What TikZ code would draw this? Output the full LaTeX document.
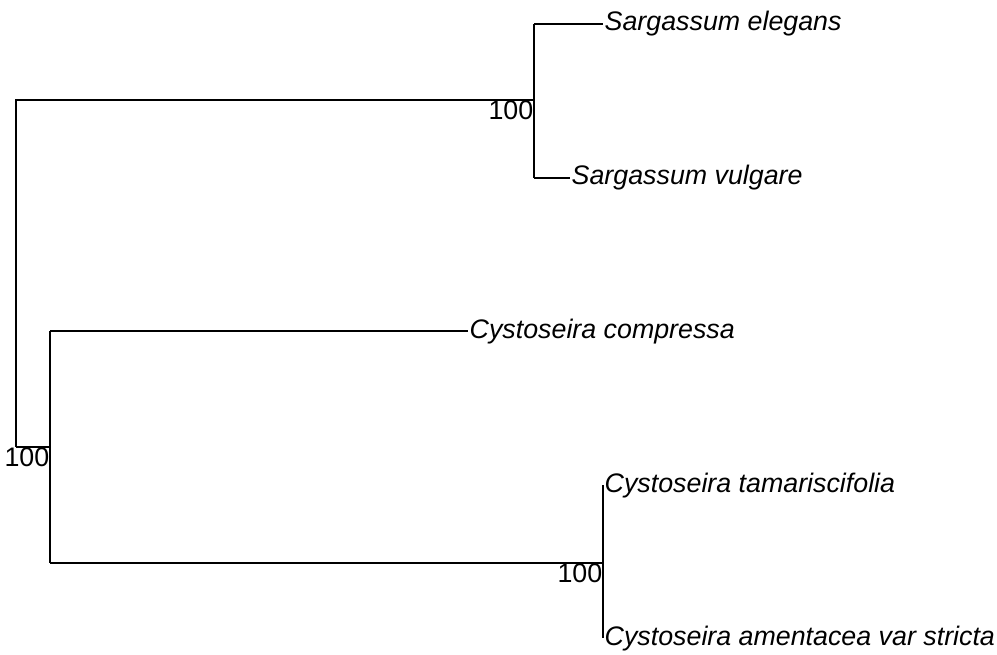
\documentclass[tikz,border=0pt]{standalone}
\usepackage{fontspec}
\setmainfont{Liberation Sans}
\begin{document}
\begin{tikzpicture}[x=1pt,y=-1pt,
  br/.style={line width=1.3pt,black},
  leaf/.style={anchor=base west,inner sep=1.5pt,yshift=-7pt,font=\fontsize{26.8}{32}\selectfont\itshape},
  boot/.style={anchor=north east,inner sep=0.5pt,font=\fontsize{26.8}{32}\selectfont}]
\useasboundingbox (0,0) rectangle (997,655);
\coordinate (root) at (16,447);
\coordinate (rtop) at (16,100);
\coordinate (sg) at (534,100);
\coordinate (sgt) at (534,24);
\coordinate (sgb) at (534,178);
\coordinate (l1) at (603,24);
\coordinate (l2) at (570,178);
\coordinate (cy) at (50,447);
\coordinate (cyt) at (50,331);
\coordinate (cyb) at (50,563);
\coordinate (l3) at (468,331);
\coordinate (cn) at (603,563);
\coordinate (l4) at (603,485);
\coordinate (l5) at (603,638);
\draw[br] (root) -- (rtop) -- (sg);
\draw[br] (sgt) -- (sgb);
\draw[br] (sgt) -- (l1);
\draw[br] (sgb) -- (l2);
\draw[br] (root) -- (cy);
\draw[br] (cyt) -- (cyb);
\draw[br] (cyt) -- (l3);
\draw[br] (cyb) -- (cn);
\draw[br] (l4) -- (l5);
\node[leaf] (n1) at (l1) {Sargassum elegans};
\node[leaf] (n2) at (l2) {Sargassum vulgare};
\node[leaf] (n3) at (l3) {Cystoseira compressa};
\node[leaf] (n4) at (l4) {Cystoseira tamariscifolia};
\node[leaf] (n5) at (l5) {Cystoseira amentacea var stricta};
\node[boot] (b1) at (sg) {100};
\node[boot] (b2) at (cy) {100};
\node[boot] (b3) at (cn) {100};
\end{tikzpicture}
\end{document}
